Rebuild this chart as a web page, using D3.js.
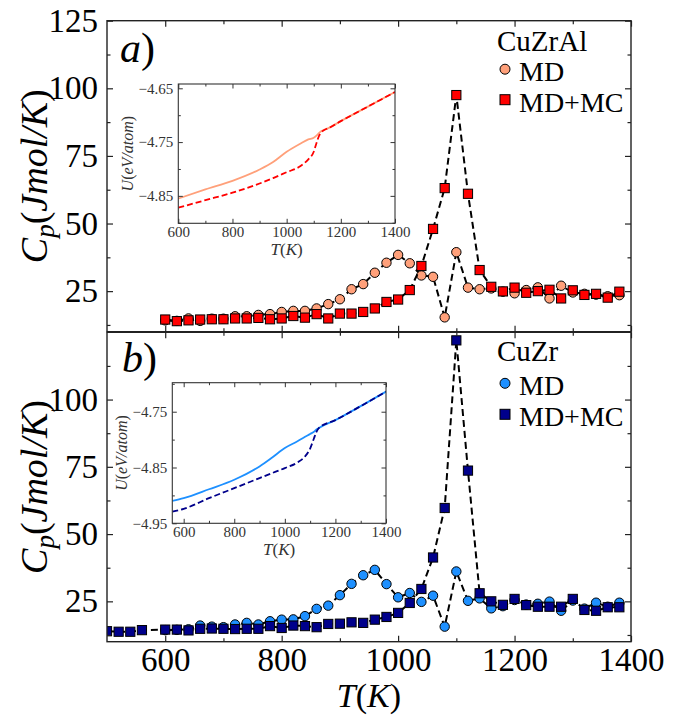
<!DOCTYPE html>
<html lang="en">
<head>
  <meta charset="UTF-8">
  <title>Cp vs T</title>
  <script src="https://d3js.org/d3.v7.min.js"></script>
  <style>
    body { margin: 0; background: #fff; }
    text { font-family: "Liberation Serif", "DejaVu Serif", serif; }
  </style>
</head>
<body>
<script>
// main panel data: temperature (K) and heat capacity Cp (J/mol/K)
var tempsMD = [600,620,640,660,680,700,720,740,760,780,800,820,840,860,880,900,920,940,960,980,
               1000,1020,1040,1060,1080,1100,1120,1140,1160,1180,1200,1220,1240,1260,1280,1300,1320,1340,1360,1380];
var tempsMC_B = [500,520,540,560,600,620,640,660,680,700,720,740,760,780,800,820,840,860,880,900,920,940,960,980,
                 1000,1020,1040,1060,1080,1100,1120,1140,1160,1180,1200,1220,1240,1260,1280,1300,1320,1340,1360,1380];

var cpMD_CuZrAl = [14.2,14.0,14.9,14.0,14.8,14.8,15.7,15.7,16.2,16.5,17.3,17.7,17.7,18.6,20.2,22.0,25.7,27.6,31.8,35.5,
                   38.4,35.3,30.8,30.3,15.3,39.4,26.3,25.7,26.0,24.8,24.2,25.4,26.4,22.3,27.0,24.5,24.0,23.7,23.1,23.5];
var cpMC_CuZrAl = [14.5,13.9,14.2,14.5,14.6,14.6,14.9,14.9,15.1,14.6,14.9,15.8,15.2,16.5,14.9,16.7,16.7,17.3,18.6,21.0,
                   21.9,25.4,34.3,48.0,63.1,97.5,61.0,32.8,26.6,24.9,26.3,24.4,25.0,25.5,22.3,25.3,23.6,24.0,22.6,24.8];
var cpMD_CuZr = [14.3,14.4,14.6,16.0,15.6,15.4,16.4,17.0,16.4,17.6,18.2,18.3,19.5,22.2,23.4,27.3,31.5,34.7,36.7,31.4,
                 26.5,28.1,24.8,27.1,15.6,36.1,25.2,26.1,22.4,23.2,25.5,23.8,24.1,24.9,21.5,25.3,22.3,24.5,23.0,24.5];
var cpMC_CuZr = [13.9,13.7,13.7,14.3,14.5,14.5,14.2,14.8,14.9,14.8,14.7,14.8,14.8,15.8,15.1,16.0,15.8,15.4,16.6,16.7,17.2,17.0,18.2,19.2,
                 20.7,24.4,29.6,41.3,59.7,122.0,73.6,28.0,25.0,23.7,25.9,23.6,23.0,23.0,23.0,25.9,21.8,21.5,22.8,22.8];

// inset data: potential energy U (eV/atom) vs T
var insetT_A = [600,700,800,900,950,1000,1050,1080,1100,1110,1120,1130,1140,1150,1200,1300,1400];
var uMD_CuZrAl = [-4.855,-4.838,-4.822,-4.801,-4.787,-4.768,-4.753,-4.745,-4.742,-4.738,-4.733,-4.729,-4.727,-4.725,-4.711,-4.684,-4.657];
var uMC_CuZrAl = [-4.872,-4.858,-4.844,-4.827,-4.817,-4.806,-4.795,-4.782,-4.768,-4.752,-4.738,-4.731,-4.727,-4.725,-4.711,-4.684,-4.657];

var insetT_B = [555,600,700,800,900,950,1000,1050,1080,1100,1115,1125,1135,1200,1300,1400];
var uMD_CuZr = [-4.910,-4.905,-4.889,-4.872,-4.848,-4.832,-4.815,-4.803,-4.795,-4.790,-4.786,-4.782,-4.779,-4.765,-4.740,-4.714];
var uMC_CuZr = [-4.929,-4.924,-4.905,-4.887,-4.869,-4.860,-4.851,-4.841,-4.830,-4.816,-4.798,-4.786,-4.779,-4.765,-4.740,-4.714];

var mainXTicks = [600,800,1000,1200,1400];
var mainXMinor = [700,900,1100,1300];
var insetXTicks = [600,800,1000,1200,1400];
var insetXMinor = [700,900,1100,1300];

var svg = d3.select("body").append("svg")
    .attr("width", 680).attr("height", 717);

var x = d3.scaleLinear().domain([500, 1400]).range([107, 631]);

function frameAxes(g, xs, ys, opt) {
  var x0 = xs.range()[0], x1 = xs.range()[1];
  var y0 = ys.range()[0], y1 = ys.range()[1];
  // major / minor ticks, pointing inward on all four sides
  function add(axisFn, scale, vals, size, tr, fmt, pad) {
    var a = axisFn(scale).tickValues(vals).tickSize(-size).tickPadding(pad || 3)
      .tickFormat(fmt || "");
    var s = g.append("g").attr("transform", tr).call(a);
    s.attr("font-family", null);
    s.select(".domain").remove();
    s.selectAll("line").attr("stroke", opt.tickColor).attr("stroke-width", opt.tickW);
    return s;
  }
  var bx = add(d3.axisBottom, xs, opt.xTicks, opt.major, "translate(0," + y0 + ")", opt.showX ? opt.xFmt : null, opt.xPad);
  add(d3.axisBottom, xs, opt.xMinor, opt.minor, "translate(0," + y0 + ")");
  add(d3.axisTop, xs, opt.xTicks, opt.major, "translate(0," + y1 + ")");
  add(d3.axisTop, xs, opt.xMinor, opt.minor, "translate(0," + y1 + ")");
  var ly = add(d3.axisLeft, ys, opt.yTicks, opt.major, "translate(" + x0 + ",0)", opt.yFmt, opt.yPad);
  add(d3.axisLeft, ys, opt.yMinor, opt.minor, "translate(" + x0 + ",0)");
  add(d3.axisRight, ys, opt.yTicks, opt.major, "translate(" + x1 + ",0)");
  add(d3.axisRight, ys, opt.yMinor, opt.minor, "translate(" + x1 + ",0)");
  [bx, ly].forEach(function(s) {
    s.attr("font-size", opt.fontSize);
    s.selectAll("text").attr("font-size", opt.fontSize).attr("fill", opt.textColor);
  });
  g.append("rect").attr("x", x0).attr("y", y1)
    .attr("width", x1 - x0).attr("height", y0 - y1)
    .attr("fill", "none").attr("stroke", opt.frameColor).attr("stroke-width", opt.frameW);
}

function drawPanel(cfg) {
  var g = svg.append("g");
  var y = d3.scaleLinear().domain([10, 125]).range([cfg.bottom, cfg.top]);

  var clipId = "clip" + cfg.id;
  svg.append("clipPath").attr("id", clipId).append("rect")
    .attr("x", 107).attr("y", cfg.top).attr("width", 524).attr("height", cfg.bottom - cfg.top);

  var plot = g.append("g").attr("clip-path", "url(#" + clipId + ")");
  var line = d3.line().x(function(d) { return x(d[0]); }).y(function(d) { return y(d[1]); });

  var md = d3.zip(cfg.tMD, cfg.md);
  var mc = d3.zip(cfg.tMC, cfg.mc);

  plot.append("path").datum(md).attr("d", line).attr("fill", "none")
    .attr("stroke", "#000").attr("stroke-width", 2).attr("stroke-dasharray", "7,4");
  plot.selectAll(".c").data(md).enter().append("circle")
    .attr("cx", function(d) { return x(d[0]); }).attr("cy", function(d) { return y(d[1]); })
    .attr("r", 4.7).attr("fill", cfg.colMD).attr("stroke", "#000").attr("stroke-width", 1);

  plot.append("path").datum(mc).attr("d", line).attr("fill", "none")
    .attr("stroke", "#000").attr("stroke-width", 2).attr("stroke-dasharray", "7,4");
  plot.selectAll(".s").data(mc).enter().append("rect")
    .attr("x", function(d) { return x(d[0]) - 4.6; }).attr("y", function(d) { return y(d[1]) - 4.6; })
    .attr("width", 9.2).attr("height", 9.2)
    .attr("fill", cfg.colMC).attr("stroke", "#000").attr("stroke-width", 1);

  frameAxes(g, x, y, {
    xTicks: mainXTicks, xMinor: mainXMinor,
    yTicks: cfg.yTicks, yMinor: [12.5, 37.5, 62.5, 87.5, 112.5],
    major: 6, minor: 3.5, showX: cfg.showX, xFmt: d3.format("d"), yFmt: d3.format("d"),
    xPad: 6, yPad: 9, fontSize: 33, textColor: "#000",
    tickColor: "#222", tickW: 1.2, frameColor: "#222", frameW: 1.4
  });

  // y label
  var yl = g.append("text")
    .attr("transform", "translate(47," + ((cfg.top + cfg.bottom) / 2) + ") rotate(-90)")
    .attr("text-anchor", "middle").attr("font-size", 38);
  yl.append("tspan").attr("font-style", "italic").text("C");
  yl.append("tspan").attr("font-style", "italic").attr("font-size", 27).attr("dy", 7).text("p");
  yl.append("tspan").attr("dy", -7).text("(");
  yl.append("tspan").attr("font-style", "italic").text("Jmol/K");
  yl.append("tspan").text(")");

  // panel letter
  var pl = g.append("text").attr("x", cfg.letterX).attr("y", cfg.letterY).attr("font-size", 42);
  pl.append("tspan").attr("font-style", "italic").text(cfg.letter);
  pl.append("tspan").text(")");

  // legend
  g.append("text").attr("x", 497).attr("y", cfg.top + cfg.legT).attr("font-size", 29).text(cfg.name);
  g.append("circle").attr("cx", 505).attr("cy", cfg.top + cfg.legC).attr("r", 5)
    .attr("fill", cfg.colMD).attr("stroke", "#000").attr("stroke-width", 1);
  g.append("text").attr("x", 519).attr("y", cfg.top + cfg.legC + 12).attr("font-size", 28).text("MD");
  g.append("rect").attr("x", 500).attr("y", cfg.top + cfg.legS - 5).attr("width", 10).attr("height", 10)
    .attr("fill", cfg.colMC).attr("stroke", "#000").attr("stroke-width", 1);
  g.append("text").attr("x", 519).attr("y", cfg.top + cfg.legS + 12).attr("font-size", 28).text("MD+MC");

  // inset
  var ins = cfg.inset;
  var ig = svg.append("g");
  var ix = d3.scaleLinear().domain(ins.xDom).range([ins.x0, ins.x1]);
  var iy = d3.scaleLinear().domain(ins.yDom).range([ins.y0, ins.y1]);
  ig.append("rect").attr("x", ins.x0).attr("y", ins.y1)
    .attr("width", ins.x1 - ins.x0).attr("height", ins.y0 - ins.y1).attr("fill", "#fff");
  var iclip = "iclip" + cfg.id;
  svg.append("clipPath").attr("id", iclip).append("rect")
    .attr("x", ins.x0).attr("y", ins.y1).attr("width", ins.x1 - ins.x0).attr("height", ins.y0 - ins.y1);
  var il = d3.line().curve(d3.curveMonotoneX)
    .x(function(d) { return ix(d[0]); }).y(function(d) { return iy(d[1]); });
  var ip = ig.append("g").attr("clip-path", "url(#" + iclip + ")");
  ip.append("path").datum(d3.zip(ins.t, ins.md)).attr("d", il).attr("fill", "none")
    .attr("stroke", cfg.colMDline).attr("stroke-width", 1.8);
  ip.append("path").datum(d3.zip(ins.t, ins.mc)).attr("d", il).attr("fill", "none")
    .attr("stroke", cfg.colMC).attr("stroke-width", 1.8).attr("stroke-dasharray", "6,3");

  frameAxes(ig, ix, iy, {
    xTicks: insetXTicks, xMinor: insetXMinor,
    yTicks: ins.yTicks, yMinor: ins.yMinor,
    major: 4.5, minor: 2.5, showX: true, xFmt: d3.format("d"),
    yFmt: function(v) { return "\u2212" + Math.abs(v).toFixed(2); },
    xPad: 3, yPad: 5, fontSize: 15, textColor: "#333",
    tickColor: "#333", tickW: 1, frameColor: "#333", frameW: 1.1
  });
  ig.append("text").attr("x", (ins.x0 + ins.x1) / 2).attr("y", ins.y0 + 32)
    .attr("text-anchor", "middle").attr("font-size", 17).attr("fill", "#333")
    .html('<tspan font-style="italic">T</tspan>(<tspan font-style="italic">K</tspan>)');
  ig.append("text")
    .attr("transform", "translate(" + (ins.x0 - 45) + "," + ((ins.y0 + ins.y1) / 2) + ") rotate(-90)")
    .attr("text-anchor", "middle").attr("font-size", 16).attr("fill", "#333")
    .html('<tspan font-style="italic">U</tspan>(<tspan font-style="italic">eV/atom</tspan>)');
}

drawPanel({
  id: "a", top: 20.7, bottom: 331.7, showX: false, yTicks: [25, 50, 75, 100, 125],
  tMD: tempsMD, md: cpMD_CuZrAl, tMC: tempsMD, mc: cpMC_CuZrAl,
  colMD: "#FFA07A", colMDline: "#FFA07A", colMC: "#FF0000",
  letter: "a", letterX: 120, letterY: 62, name: "CuZrAl", legT: 30, legC: 48.5, legS: 79,
  inset: { x0: 178.3, x1: 395, y0: 223.3, y1: 84, xDom: [600, 1400], yDom: [-4.901, -4.642],
           yTicks: [-4.85, -4.75, -4.65], yMinor: [-4.90, -4.80, -4.70],
           t: insetT_A, md: uMD_CuZrAl, mc: uMC_CuZrAl }
});

drawPanel({
  id: "b", top: 332.3, bottom: 641.7, showX: true, yTicks: [25, 50, 75, 100],
  tMD: tempsMD, md: cpMD_CuZr, tMC: tempsMC_B, mc: cpMC_CuZr,
  colMD: "#1E90FF", colMDline: "#1E90FF", colMC: "#00008B",
  letter: "b", letterX: 122, letterY: 372, name: "CuZr", legT: 29, legC: 51, legS: 82,
  inset: { x0: 172.3, x1: 386, y0: 523.3, y1: 382.7, xDom: [555, 1400], yDom: [-4.95, -4.698],
           yTicks: [-4.95, -4.85, -4.75], yMinor: [-4.90, -4.80, -4.70],
           t: insetT_B, md: uMD_CuZr, mc: uMC_CuZr }
});

// x axis label
svg.append("text").attr("x", 369).attr("y", 707).attr("text-anchor", "middle").attr("font-size", 34)
  .html('<tspan font-style="italic">T</tspan>(<tspan font-style="italic">K</tspan>)');
</script>
</body>
</html>
